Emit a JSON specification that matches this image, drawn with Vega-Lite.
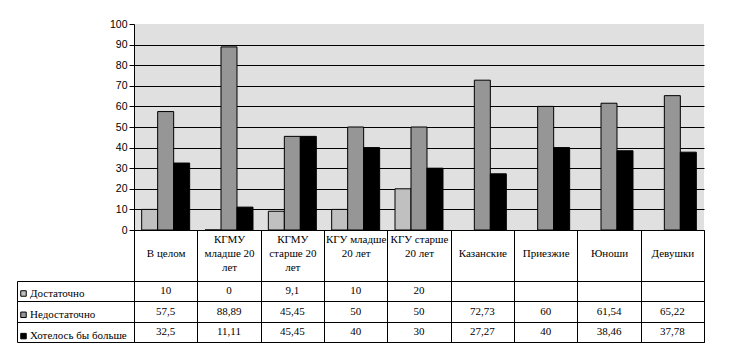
{
  "$schema": "https://vega.github.io/schema/vega-lite/v6.json",
  "padding": {"left": 16, "top": 19, "right": 5, "bottom": 5},
  "background": "white",
  "config": {
    "locale": {"number": {"decimal": ",", "thousands": " ", "grouping": [3], "currency": ["", ""]}}
  },
  "data": {"values": [
    {"category": "В целом", "series": "Достаточно", "value": 10},
    {"category": "В целом", "series": "Недостаточно", "value": 57.5},
    {"category": "В целом", "series": "Хотелось бы больше", "value": 32.5},
    {"category": "КГМУ младше 20 лет", "series": "Достаточно", "value": 0},
    {"category": "КГМУ младше 20 лет", "series": "Недостаточно", "value": 88.89},
    {"category": "КГМУ младше 20 лет", "series": "Хотелось бы больше", "value": 11.11},
    {"category": "КГМУ старше 20 лет", "series": "Достаточно", "value": 9.1},
    {"category": "КГМУ старше 20 лет", "series": "Недостаточно", "value": 45.45},
    {"category": "КГМУ старше 20 лет", "series": "Хотелось бы больше", "value": 45.45},
    {"category": "КГУ младше 20 лет", "series": "Достаточно", "value": 10},
    {"category": "КГУ младше 20 лет", "series": "Недостаточно", "value": 50},
    {"category": "КГУ младше 20 лет", "series": "Хотелось бы больше", "value": 40},
    {"category": "КГУ старше 20 лет", "series": "Достаточно", "value": 20},
    {"category": "КГУ старше 20 лет", "series": "Недостаточно", "value": 50},
    {"category": "КГУ старше 20 лет", "series": "Хотелось бы больше", "value": 30},
    {"category": "Казанские", "series": "Недостаточно", "value": 72.73},
    {"category": "Казанские", "series": "Хотелось бы больше", "value": 27.27},
    {"category": "Приезжие", "series": "Недостаточно", "value": 60},
    {"category": "Приезжие", "series": "Хотелось бы больше", "value": 40},
    {"category": "Юноши", "series": "Недостаточно", "value": 61.54},
    {"category": "Юноши", "series": "Хотелось бы больше", "value": 38.46},
    {"category": "Девушки", "series": "Недостаточно", "value": 65.22},
    {"category": "Девушки", "series": "Хотелось бы больше", "value": 37.78}
  ]},
  "bounds": "flush",
  "spacing": 51,
  "vconcat": [
    {
      "width": 570,
      "height": 206,
      "view": {"fill": "#E0E0E0", "stroke": null},
      "mark": {"type": "bar", "stroke": "black", "strokeWidth": 1, "opacity": 1},
      "encoding": {
        "x": {
          "field": "category", "type": "nominal", "title": null,
          "sort": ["В целом", "КГМУ младше 20 лет", "КГМУ старше 20 лет", "КГУ младше 20 лет", "КГУ старше 20 лет", "Казанские", "Приезжие", "Юноши", "Девушки"],
          "scale": {"domain": ["В целом", "КГМУ младше 20 лет", "КГМУ старше 20 лет", "КГУ младше 20 лет", "КГУ старше 20 лет", "Казанские", "Приезжие", "Юноши", "Девушки"], "paddingInner": 0, "paddingOuter": 0},
          "axis": {
            "orient": "bottom", "domain": true, "domainColor": "black", "domainWidth": 1,
            "ticks": true, "tickColor": "black", "tickSize": 51, "tickWidth": 1, "tickBand": "extent",
            "grid": false, "labelAngle": 0, "labelPadding": -48, "labelBaseline": "top",
            "labelFont": "Liberation Serif, DejaVu Serif, serif", "labelFontSize": 11, "labelColor": "black", "labelLineHeight": 14,
            "labelOverlap": false, "labelBound": false, "labelFlush": false, "labelLimit": 0,
            "labelExpr": "datum.label == 'КГМУ младше 20 лет' ? ['КГМУ', 'младше 20', 'лет'] : datum.label == 'КГМУ старше 20 лет' ? ['КГМУ', 'старше 20', 'лет'] : datum.label == 'КГУ младше 20 лет' ? ['КГУ младше', '20 лет'] : datum.label == 'КГУ старше 20 лет' ? ['КГУ старше', '20 лет'] : ['', datum.label]"
          }
        },
        "xOffset": {
          "field": "series", "type": "nominal",
          "sort": ["Достаточно", "Недостаточно", "Хотелось бы больше"],
          "scale": {"domain": ["Достаточно", "Недостаточно", "Хотелось бы больше"], "paddingInner": 0, "paddingOuter": 0.48}
        },
        "y": {
          "field": "value", "type": "quantitative", "title": null,
          "scale": {"domain": [0, 100], "nice": false},
          "axis": {
            "values": [0, 10, 20, 30, 40, 50, 60, 70, 80, 90, 100],
            "domain": true, "domainColor": "black", "ticks": true, "tickColor": "black", "tickSize": 5,
            "grid": true, "gridColor": "black", "gridWidth": 1,
            "gridOpacity": {"condition": {"test": "datum.value === 100", "value": 0}, "value": 1},
            "labelFont": "Liberation Sans", "labelFontSize": 10.5, "labelColor": "black", "labelPadding": 2
          }
        },
        "color": {
          "field": "series", "type": "nominal",
          "scale": {"domain": ["Достаточно", "Недостаточно", "Хотелось бы больше"], "range": ["#C0C0C0", "#969696", "#000000"]},
          "legend": {
            "orient": "none", "legendX": -116, "legendY": 264, "title": null, "padding": 0,
            "symbolType": "square", "symbolSize": 30, "symbolStrokeColor": "black", "symbolStrokeWidth": 1, "symbolOpacity": 1,
            "labelFont": "Liberation Serif, DejaVu Serif, serif", "labelFontSize": 11, "labelColor": "black", "labelOffset": 1,
            "rowPadding": 9.3
          }
        }
      }
    },
    {
      "width": 570,
      "height": 61,
      "view": {"fill": "white", "stroke": "black", "strokeWidth": 1},
      "mark": {"type": "text", "font": "Liberation Serif, DejaVu Serif, serif", "fontSize": 11, "color": "black"},
      "encoding": {
        "x": {
          "field": "category", "type": "nominal", "title": null,
          "sort": ["В целом", "КГМУ младше 20 лет", "КГМУ старше 20 лет", "КГУ младше 20 лет", "КГУ старше 20 лет", "Казанские", "Приезжие", "Юноши", "Девушки"],
          "scale": {"domain": ["В целом", "КГМУ младше 20 лет", "КГМУ старше 20 лет", "КГУ младше 20 лет", "КГУ старше 20 лет", "Казанские", "Приезжие", "Юноши", "Девушки"], "paddingInner": 0, "paddingOuter": 0},
          "axis": {"labels": false, "ticks": false, "domain": false, "grid": true, "gridColor": "black", "gridOpacity": 1, "gridWidth": 1, "tickBand": "extent"}
        },
        "y": {
          "field": "series", "type": "nominal", "title": null,
          "sort": ["Достаточно", "Недостаточно", "Хотелось бы больше"],
          "scale": {"domain": ["Достаточно", "Недостаточно", "Хотелось бы больше"], "paddingInner": 0, "paddingOuter": 0},
          "axis": {"labels": false, "ticks": true, "tickSize": -117, "offset": 117, "tickColor": "black", "tickWidth": 1, "domain": true, "domainColor": "black", "domainWidth": 1, "grid": true, "gridColor": "black", "gridOpacity": 1, "gridWidth": 1, "tickBand": "extent"}
        },
        "text": {"field": "value", "type": "quantitative", "format": ".4~r"}
      }
    }
  ]
}
